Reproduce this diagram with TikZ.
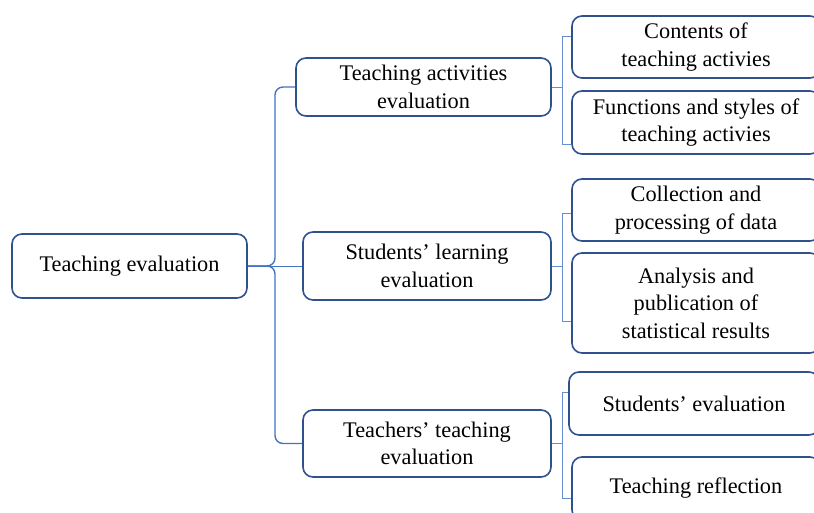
\documentclass[tikz,border=0pt]{standalone}
\usepackage{fontspec}
\setmainfont{Liberation Serif}
\usetikzlibrary{calc}
\definecolor{boxblue}{HTML}{2F528F}
\definecolor{linkblue}{HTML}{4472C4}
\tikzset{
  card/.style={rounded corners=10bp,draw=boxblue,line width=1.6bp,fill=white,
    font=\fontsize{22.4}{27.5}\selectfont,align=center,inner sep=0pt},
  rootbox/.style={card,minimum width=235bp,minimum height=64bp},
  midbox/.style={card,minimum width=248bp,minimum height=67bp},
  leafbox/.style={card,minimum width=248bp,minimum height=63bp},
  trunk/.style={draw=linkblue,line width=1.4bp,rounded corners=8bp},
  stem/.style={draw=linkblue,line width=0.8bp},
  twig/.style={draw=linkblue!80,line width=0.8bp}
}
\begin{document}
\begin{tikzpicture}[x=1bp,y=-1bp]
\useasboundingbox (0,0) rectangle (814,513);
\clip (0,0) rectangle (814,513);
% left column
\node[rootbox] (root) at (129.5,266) {Teaching evaluation};
% middle column
\node[midbox,minimum width=255bp,minimum height=58bp] (m1) at (423.5,87) {Teaching activities\\evaluation};
\node[midbox,minimum height=68bp] (m2) at (427,266) {Students' learning\\evaluation};
\node[midbox] (m3) at (427,443.5) {Teachers' teaching\\evaluation};
% right column
\node[leafbox,minimum height=62bp] (l1) at (696,47) {Contents of\\teaching activies};
\node[leafbox] (l2) at (696,122.5) {Functions and styles of\\teaching activies};
\node[leafbox,minimum height=62bp] (l3) at (696,210) {Collection and\\processing of data};
\node[leafbox,minimum height=100bp] (l4) at (696,303) {Analysis and\\publication of\\statistical results};
\node[leafbox,minimum width=250bp] (l5) at (694,403.5) {Students' evaluation};
\node[leafbox] (l6) at (696,488.5) {Teaching reflection};
% brace from the root
\coordinate (bx) at ($(root.east)!0.5!(m2.west)$);
\draw[trunk] (m1.west) -| (bx) -- (root.east);
\draw[trunk] (m3.west) -| (bx) -- (root.east);
\draw[stem] (root.east) -- (m2.west);
% brackets to the leaves
\foreach \m/\a/\b/\sa/\sb in {m1/l1/l2/11/-22, m2/l3/l4/-3/-18, m3/l5/l6/11/-10}{
  \draw[twig] (\m.east) -- ++(11,0) coordinate (j);
  \draw[twig] ([yshift=\sa bp]\a.west) -| (j) |- ([yshift=\sb bp]\b.west);
}
\end{tikzpicture}
\end{document}
